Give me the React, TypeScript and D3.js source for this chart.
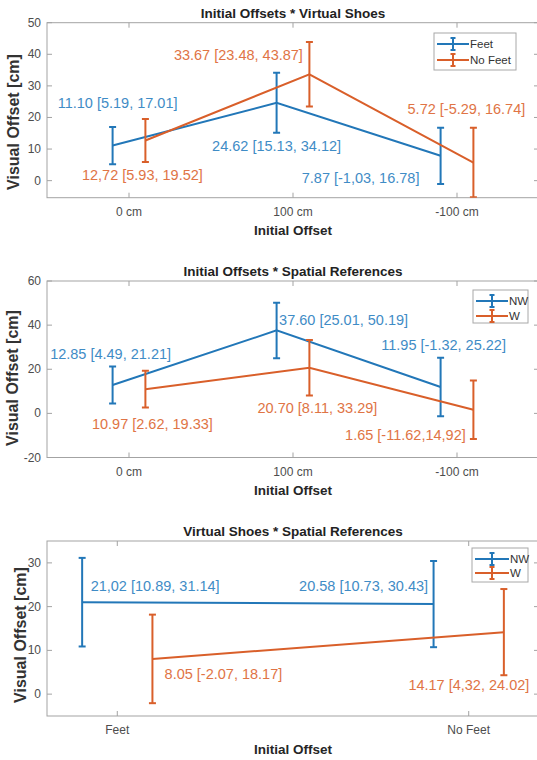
import React from "react";
import * as d3 from "d3";

// colours (MATLAB defaults, softened by the screenshot blur)
const blue = "#2277b8";
const orange = "#d95f2a";
const blueText = "#3f8cc6";
const orangeText = "#e07445";

// panel 1: Initial Offsets * Virtual Shoes
const offsetCats = ["0 cm", "100 cm", "-100 cm"];
const feetMean = [11.1, 24.62, 7.87];
const feetLow = [5.19, 15.13, -1.03];
const feetHigh = [17.01, 34.12, 16.78];
const feetLabels = ["11.10 [5.19, 17.01]", "24.62 [15.13, 34.12]", "7.87 [-1,03, 16.78]"];
const noFeetMean = [12.72, 33.67, 5.72];
const noFeetLow = [5.93, 23.48, -5.29];
const noFeetHigh = [19.52, 43.87, 16.74];
const noFeetLabels = ["12,72 [5.93, 19.52]", "33.67 [23.48, 43.87]", "5.72 [-5.29, 16.74]"];
const ticks1 = [0, 10, 20, 30, 40, 50];

// panel 2: Initial Offsets * Spatial References
const nwMean2 = [12.85, 37.6, 11.95];
const nwLow2 = [4.49, 25.01, -1.32];
const nwHigh2 = [21.21, 50.19, 25.22];
const nwLabels2 = ["12.85 [4.49, 21.21]", "37.60 [25.01, 50.19]", "11.95 [-1.32, 25.22]"];
const wMean2 = [10.97, 20.7, 1.65];
const wLow2 = [2.62, 8.11, -11.62];
const wHigh2 = [19.33, 33.29, 14.92];
const wLabels2 = ["10.97 [2.62, 19.33]", "20.70 [8.11, 33.29]", "1.65 [-11.62,14,92]"];
const ticks2 = [-20, 0, 20, 40, 60];

// panel 3: Virtual Shoes * Spatial References
const shoeCats = ["Feet", "No Feet"];
const nwMean3 = [21.02, 20.58];
const nwLow3 = [10.89, 10.73];
const nwHigh3 = [31.14, 30.43];
const nwLabels3 = ["21,02 [10.89, 31.14]", "20.58 [10.73, 30.43]"];
const wMean3 = [8.05, 14.17];
const wLow3 = [-2.07, 4.32];
const wHigh3 = [18.17, 24.02];
const wLabels3 = ["8.05 [-2.07, 18.17]", "14.17 [4,32, 24.02]"];
const ticks3 = [0, 10, 20, 30];

const font = "'Liberation Sans', Arial, sans-serif";
const axisColor = "#a3a3a3";

type Series = {
  name: string;
  mean: number[];
  low: number[];
  high: number[];
  labels: string[];
  color: string;
  textColor: string;
  shift: number; // x offset in category units
  labelPos: [number, number][]; // pixel shift of label from point
};

type PanelCfg = {
  title: string;
  cats: string[];
  xDomain: [number, number];
  yDomain: [number, number];
  yTicks: number[];
  top: number;
  bottom: number;
  series: Series[];
  legend: { x: number; y: number; w: number; h: number; row: number; sample: number };
  yLabel: [number, number];
};

const left = 47;
const right = 539;

const panels: PanelCfg[] = [
  {
    title: "Initial Offsets * Virtual Shoes",
    cats: offsetCats,
    xDomain: [0.5, 3.5],
    yDomain: [-5.4, 50],
    yTicks: ticks1,
    top: 22.7,
    bottom: 197.7,
    legend: { x: 434, y: 33, w: 82, h: 37, row: 16, sample: 32 },
    yLabel: [13, 122],
    series: [
      { name: "Feet", mean: feetMean, low: feetLow, high: feetHigh, labels: feetLabels, color: blue, textColor: blueText, shift: -0.1,
        labelPos: [[5, -43], [0, 43], [-80, 22]] },
      { name: "No Feet", mean: noFeetMean, low: noFeetLow, high: noFeetHigh, labels: noFeetLabels, color: orange, textColor: orangeText, shift: 0.1,
        labelPos: [[-3, 35], [-71, -19], [-7, -54]] },
    ],
  },
  {
    title: "Initial Offsets * Spatial References",
    cats: offsetCats,
    xDomain: [0.5, 3.5],
    yDomain: [-20, 60],
    yTicks: ticks2,
    top: 281,
    bottom: 457.5,
    legend: { x: 473, y: 290, w: 55, h: 33, row: 15, sample: 32 },
    yLabel: [12, 378],
    series: [
      { name: "NW", mean: nwMean2, low: nwLow2, high: nwHigh2, labels: nwLabels2, color: blue, textColor: blueText, shift: -0.1,
        labelPos: [[-2, -31], [67, -10], [3, -42]] },
      { name: "W", mean: wMean2, low: wLow2, high: wHigh2, labels: wLabels2, color: orange, textColor: orangeText, shift: 0.1,
        labelPos: [[7, 35], [8, 40], [-68, 25]] },
    ],
  },
  {
    title: "Virtual Shoes * Spatial References",
    cats: shoeCats,
    xDomain: [0.8, 2.2],
    yDomain: [-5, 35],
    yTicks: ticks3,
    top: 541,
    bottom: 716,
    legend: { x: 472, y: 548, w: 56, h: 34, row: 14, sample: 34 },
    yLabel: [20, 635],
    series: [
      { name: "NW", mean: nwMean3, low: nwLow3, high: nwHigh3, labels: nwLabels3, color: blue, textColor: blueText, shift: -0.1,
        labelPos: [[73, -16], [-70, -18]] },
      { name: "W", mean: wMean3, low: wLow3, high: wHigh3, labels: wLabels3, color: orange, textColor: orangeText, shift: 0.1,
        labelPos: [[71, 15], [-35, 53]] },
    ],
  },
];

const Panel = ({ cfg, idx }: { cfg: PanelCfg; idx: number }) => {
  const x = d3.scaleLinear().domain(cfg.xDomain).range([left, right]);
  const y = d3.scaleLinear().domain(cfg.yDomain).range([cfg.bottom, cfg.top]);
  const cap = 3.5;
  const tickLen = 5;
  const clipId = `clip-${idx}`;
  const lg = cfg.legend;

  return (
    <g>
      <defs>
        <clipPath id={clipId}>
          <rect x={left} y={cfg.top} width={right - left} height={cfg.bottom - cfg.top} />
        </clipPath>
      </defs>
      <rect x={left} y={cfg.top} width={right - left} height={cfg.bottom - cfg.top} fill="#fff" stroke={axisColor} strokeWidth={1} />

      {/* y ticks */}
      {cfg.yTicks.map((t) => (
        <g key={`y${t}`}>
          <line x1={left} x2={left + tickLen} y1={y(t)} y2={y(t)} stroke={axisColor} />
          <line x1={right - tickLen} x2={right} y1={y(t)} y2={y(t)} stroke={axisColor} />
          <text x={left - 6} y={y(t)} textAnchor="end" dominantBaseline="central" fontSize={12} fill="#4d4d4d">
            {t}
          </text>
        </g>
      ))}

      {/* x ticks */}
      {cfg.cats.map((c, i) => (
        <g key={`x${c}`}>
          <line x1={x(i + 1)} x2={x(i + 1)} y1={cfg.bottom} y2={cfg.bottom - tickLen} stroke={axisColor} />
          <line x1={x(i + 1)} x2={x(i + 1)} y1={cfg.top} y2={cfg.top + tickLen} stroke={axisColor} />
          <text x={x(i + 1)} y={cfg.bottom + 14} textAnchor="middle" dominantBaseline="central" fontSize={12} fill="#4d4d4d">
            {c}
          </text>
        </g>
      ))}

      <text x={(left + right) / 2} y={cfg.top - 5} textAnchor="middle" fontSize={13.5} fontWeight="bold" fill="#222">
        {cfg.title}
      </text>
      <text x={(left + right) / 2} y={cfg.bottom + 33} textAnchor="middle" dominantBaseline="central" fontSize={13.5} fontWeight="bold" fill="#262626">
        Initial Offset
      </text>
      <text
        transform={`translate(${cfg.yLabel[0]},${cfg.yLabel[1]}) rotate(-90)`}
        textAnchor="middle"
        dominantBaseline="central"
        fontSize={16}
        fontWeight="bold"
        fill="#333"
      >
        Visual Offset [cm]
      </text>

      <g clipPath={`url(#${clipId})`}>
        {cfg.series.map((s) => {
          const px = (i: number) => x(i + 1 + s.shift);
          const path = d3
            .line<number>()
            .x((_, i) => px(i))
            .y((d) => y(d))(s.mean);
          return (
            <g key={s.name}>
              <path d={path || ""} fill="none" stroke={s.color} strokeWidth={2} />
              {s.mean.map((m, i) => (
                <g key={i} stroke={s.color} strokeWidth={2}>
                  <line x1={px(i)} x2={px(i)} y1={y(s.low[i])} y2={y(s.high[i])} />
                  <line x1={px(i) - cap} x2={px(i) + cap} y1={y(s.low[i])} y2={y(s.low[i])} />
                  <line x1={px(i) - cap} x2={px(i) + cap} y1={y(s.high[i])} y2={y(s.high[i])} />
                </g>
              ))}
            </g>
          );
        })}
      </g>

      {/* value labels */}
      {cfg.series.map((s) =>
        s.mean.map((m, i) => (
          <text
            key={`${s.name}-${i}`}
            x={x(i + 1 + s.shift) + s.labelPos[i][0]}
            y={y(m) + s.labelPos[i][1]}
            textAnchor="middle"
            dominantBaseline="central"
            fontSize={14.5}
            fill={s.textColor}
          >
            {s.labels[i]}
          </text>
        ))
      )}

      {/* legend */}
      <rect x={lg.x} y={lg.y} width={lg.w} height={lg.h} fill="#fff" stroke="#a8a8a8" strokeWidth={1} />
      {cfg.series.map((s, i) => {
        const ly = lg.y + 11 + i * lg.row;
        const lx0 = lg.x + 3;
        const mid = lx0 + lg.sample / 2;
        return (
          <g key={`lg${s.name}`}>
            <g stroke={s.color} strokeWidth={2}>
              <line x1={lx0} x2={lx0 + lg.sample} y1={ly} y2={ly} />
              <line x1={mid} x2={mid} y1={ly - 6} y2={ly + 6} />
              <line x1={mid - 2.5} x2={mid + 2.5} y1={ly - 6} y2={ly - 6} />
              <line x1={mid - 2.5} x2={mid + 2.5} y1={ly + 6} y2={ly + 6} />
            </g>
            <text x={lx0 + lg.sample + 1} y={ly} dominantBaseline="central" fontSize={11.5} fill="#333">
              {s.name}
            </text>
          </g>
        );
      })}
    </g>
  );
};

export default function App() {
  return (
    <svg
      width={537}
      height={760}
      style={{ position: "absolute", left: 0, top: 0, background: "#fff" }}
      fontFamily={font}
    >
      <rect width={537} height={760} fill="#fff" />
      {panels.map((p, i) => (
        <Panel key={i} cfg={p} idx={i} />
      ))}
    </svg>
  );
}
